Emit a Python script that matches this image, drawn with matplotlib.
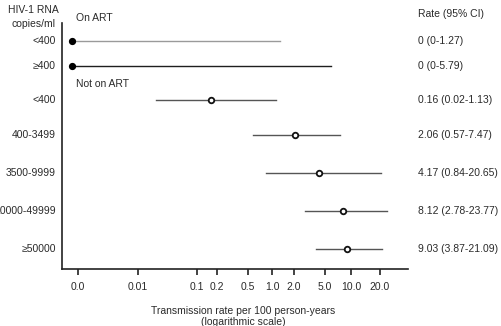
import numpy as np
import matplotlib
matplotlib.use("Agg")
import matplotlib.pyplot as plt

plt.rcParams['font.family'] = ['Liberation Sans', 'DejaVu Sans']

# Data
categories = ["<400", "≥400", "<400", "400-3499", "3500-9999", "10000-49999", "≥50000"]
on_art = [True, True, False, False, False, False, False]
rates = [0.0, 0.0, 0.16, 2.06, 4.17, 8.12, 9.03]
ci_low = [0.0, 0.0, 0.02, 0.57, 0.84, 2.78, 3.87]
ci_high = [1.27, 5.79, 1.13, 7.47, 20.65, 23.77, 21.09]
rate_labels = ["0 (0-1.27)", "0 (0-5.79)", "0.16 (0.02-1.13)", "2.06 (0.57-7.47)",
               "4.17 (0.84-20.65)", "8.12 (2.78-23.77)", "9.03 (3.87-21.09)"]
tick_values = [0.001, 0.01, 0.1, 0.2, 0.5, 1.0, 2.0, 5.0, 10.0, 20.0]
tick_labels = ["0.0", "0.01", "0.1", "0.2", "0.5", "1.0", "2.0", "5.0", "10.0", "20.0"]

# Layout: the original's hand-spaced logarithmic axis (tick value -> pixel column)
anchor_px = [78, 138, 197, 217, 248, 272, 294, 325, 351, 380]
row_y = [41, 66, 100, 135, 173, 211, 249]
zero_pos = 0.00079      # where a rate of 0 is drawn on the axis
W, H = 501, 326
ax_l, ax_r, ax_t, ax_b = 62, 408, 23, 269
FS = 7.5
TC = '#2a2a2a'

anchor_log = np.log10(tick_values)
anchor_px_arr = np.asarray(anchor_px, float)


def interp_extrap(x, xp, fp):
    x = np.asarray(x, float)
    xp = np.asarray(xp, float)
    fp = np.asarray(fp, float)
    y = np.interp(x, xp, fp)
    s0 = (fp[1] - fp[0]) / (xp[1] - xp[0])
    s1 = (fp[-1] - fp[-2]) / (xp[-1] - xp[-2])
    y = np.where(x < xp[0], fp[0] + (x - xp[0]) * s0, y)
    y = np.where(x > xp[-1], fp[-1] + (x - xp[-1]) * s1, y)
    return y


def fwd(v):
    v = np.clip(np.asarray(v, float), 1e-12, None)
    return interp_extrap(np.log10(v), anchor_log, anchor_px_arr)


def inv(p):
    return 10 ** interp_extrap(p, anchor_px_arr, anchor_log)


fig = plt.figure(figsize=(W / 100, H / 100), dpi=100)
ax = fig.add_axes([ax_l / W, 1 - ax_b / H, (ax_r - ax_l) / W, (ax_b - ax_t) / H])
ax.set_xscale('function', functions=(fwd, inv))
ax.set_xlim(float(inv(ax_l)), float(inv(ax_r)))
ax.set_ylim(ax_b, ax_t)

line_colors = ['#9a9a9a', '#1e1e1e', '#555555', '#555555', '#555555', '#555555', '#555555']
for i, cat in enumerate(categories):
    y = row_y[i]
    lo = ci_low[i] if ci_low[i] > 0 else zero_pos
    r = rates[i] if rates[i] > 0 else zero_pos
    ax.plot([lo, ci_high[i]], [y, y], color=line_colors[i], lw=1.0, zorder=2)
    if on_art[i]:
        ax.plot([r], [y], marker='o', ms=4.2, mfc='black', mec='black', zorder=3)
    else:
        ax.plot([r], [y], marker='o', ms=4.0, mfc='white', mec='#111111', mew=1.3, zorder=3)
    fig.text(56 / W, 1 - y / H, cat, ha='right', va='center', fontsize=FS, color=TC)
    fig.text(418 / W, 1 - y / H, rate_labels[i], ha='left', va='center', fontsize=FS, color=TC)

ax.set_yticks([])
ax.set_xticks(tick_values)
ax.set_xticklabels(tick_labels, fontsize=FS, color=TC)
ax.xaxis.set_minor_locator(matplotlib.ticker.NullLocator())
ax.tick_params(axis='x', length=4, width=1.2, pad=5, color='#222222')
for s in ['top', 'right']:
    ax.spines[s].set_visible(False)
for s in ['left', 'bottom']:
    ax.spines[s].set_linewidth(1.2)
    ax.spines[s].set_color('#222222')

fig.text(76 / W, 1 - 18 / H, "On ART", ha='left', va='center', fontsize=FS, color=TC)
fig.text(76 / W, 1 - 84 / H, "Not on ART", ha='left', va='center', fontsize=FS, color=TC)
fig.text(33 / W, 1 - 10 / H, "HIV-1 RNA", ha='center', va='center', fontsize=FS, color=TC)
fig.text(56 / W, 1 - 24 / H, "copies/ml", ha='right', va='center', fontsize=FS, color=TC)
fig.text(418 / W, 1 - 14 / H, "Rate (95% CI)", ha='left', va='center', fontsize=FS, color=TC)
fig.text(243 / W, 1 - 311 / H, "Transmission rate per 100 person-years", ha='center', va='center',
         fontsize=FS, color=TC)
fig.text(243 / W, 1 - 322 / H, "(logarithmic scale)", ha='center', va='center', fontsize=FS, color=TC)

fig.savefig("out.png", dpi=100)
